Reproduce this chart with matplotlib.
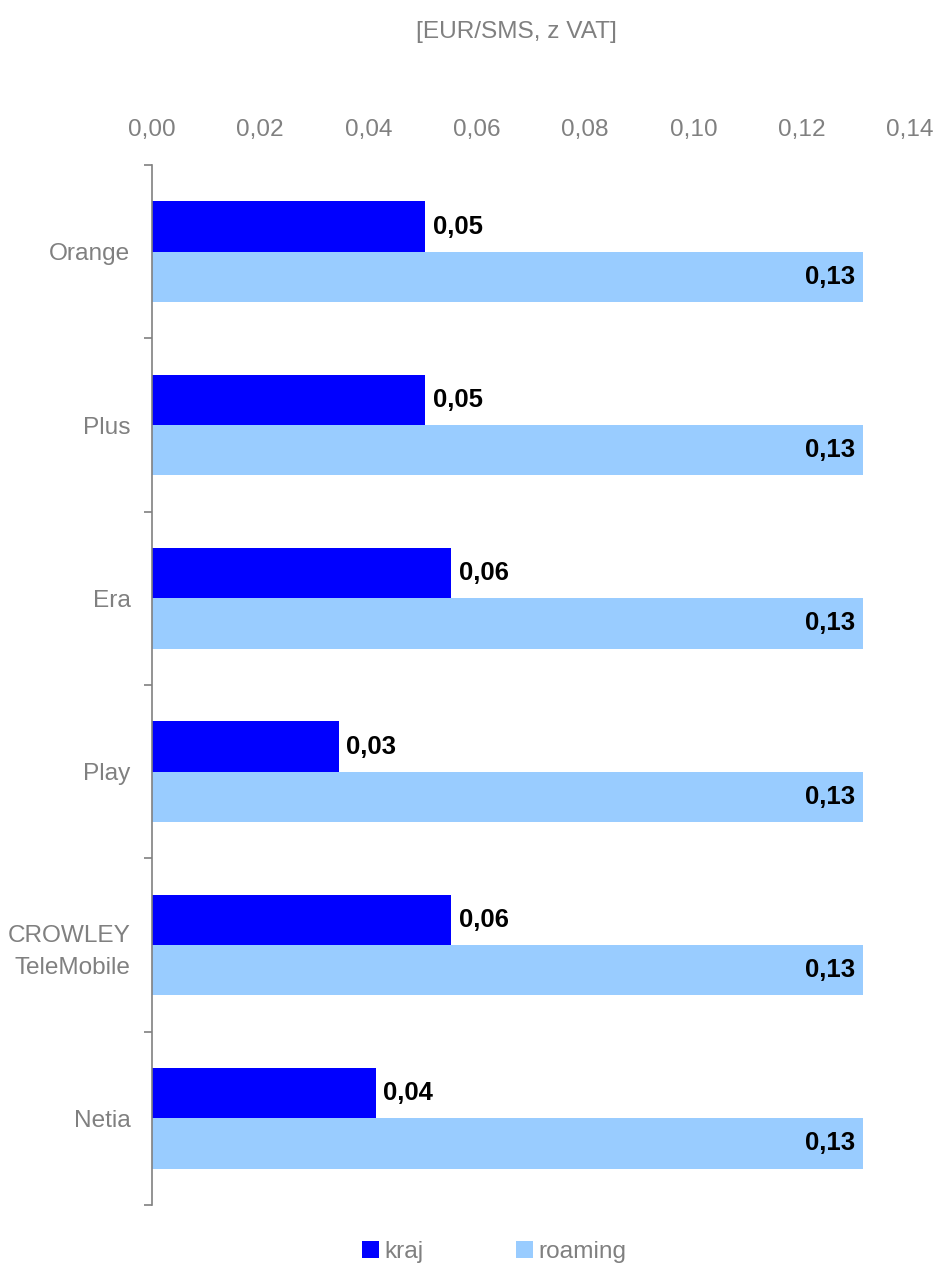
import numpy as np
import matplotlib.pyplot as plt

plt.rcParams['font.family'] = ['Liberation Sans', 'DejaVu Sans']

# data
operators = ['Orange', 'Plus', 'Era', 'Play', 'CROWLEY\nTeleMobile', 'Netia']
kraj = [0.0504, 0.0504, 0.0552, 0.0345, 0.0552, 0.0413]
roaming = [0.1313, 0.1313, 0.1313, 0.1313, 0.1313, 0.1313]
xticks = [0.00, 0.02, 0.04, 0.06, 0.08, 0.10, 0.12, 0.14]

gray = '#808080'
c_kraj = '#0000FF'
c_roam = '#99CCFF'
fs = 17.6

fig = plt.figure(figsize=(9.39, 12.68), dpi=100)
ax = fig.add_axes([152 / 939, 1 - 1205 / 1268, (910 - 152) / 939, 1040 / 1268])

y = np.arange(len(operators))
h = 0.29
b1 = ax.barh(y - h / 2, kraj, height=h, color=c_kraj, label='kraj')
b2 = ax.barh(y + h / 2, roaming, height=h, color=c_roam, label='roaming')

def fmt(v):
    return ('%.2f' % v).replace('.', ',')

for rect, v in zip(b1, kraj):
    ax.annotate(fmt(v), (rect.get_width(), rect.get_y() + rect.get_height() / 2),
                xytext=(5.5, 0), textcoords='offset points', ha='left', va='center',
                fontsize=18.5, fontweight='bold', color='black')
for rect, v in zip(b2, roaming):
    ax.annotate(fmt(v), (rect.get_width(), rect.get_y() + rect.get_height() / 2),
                xytext=(-5.5, 0), textcoords='offset points', ha='right', va='center',
                fontsize=18.5, fontweight='bold', color='black')

ax.set_xlim(0, 0.14)
ax.set_ylim(len(operators) - 0.5, -0.5)

ax.xaxis.tick_top()
ax.set_xticks(xticks)
ax.set_xticklabels([fmt(t) for t in xticks])
ax.tick_params(axis='x', length=0, pad=17.5, labelsize=fs, labelcolor=gray)

ax.set_yticks(np.arange(len(operators) + 1) - 0.5)
ax.set_yticklabels([])
ax.set_yticks(y, minor=True)
ax.set_yticklabels(operators, minor=True, linespacing=1.55)
ax.tick_params(axis='y', which='major', length=6, color=gray, width=1.2)
ax.tick_params(axis='y', which='minor', length=0, pad=15.5, labelsize=fs, labelcolor=gray)

for s in ['top', 'right', 'bottom']:
    ax.spines[s].set_visible(False)
ax.spines['left'].set_color(gray)
ax.spines['left'].set_linewidth(1.2)

fig.text(516 / 939, 1 - 32 / 1268, '[EUR/SMS, z VAT]', ha='center', va='center',
         fontsize=fs, color=gray)

leg = fig.legend(loc='center', bbox_to_anchor=(494 / 939, 1 - 1252 / 1268), ncol=2,
                 frameon=False, fontsize=fs, handlelength=0.7, handleheight=0.7,
                 handletextpad=0.2, columnspacing=3.8, labelcolor=gray)

fig.savefig('out.png', dpi=100)
